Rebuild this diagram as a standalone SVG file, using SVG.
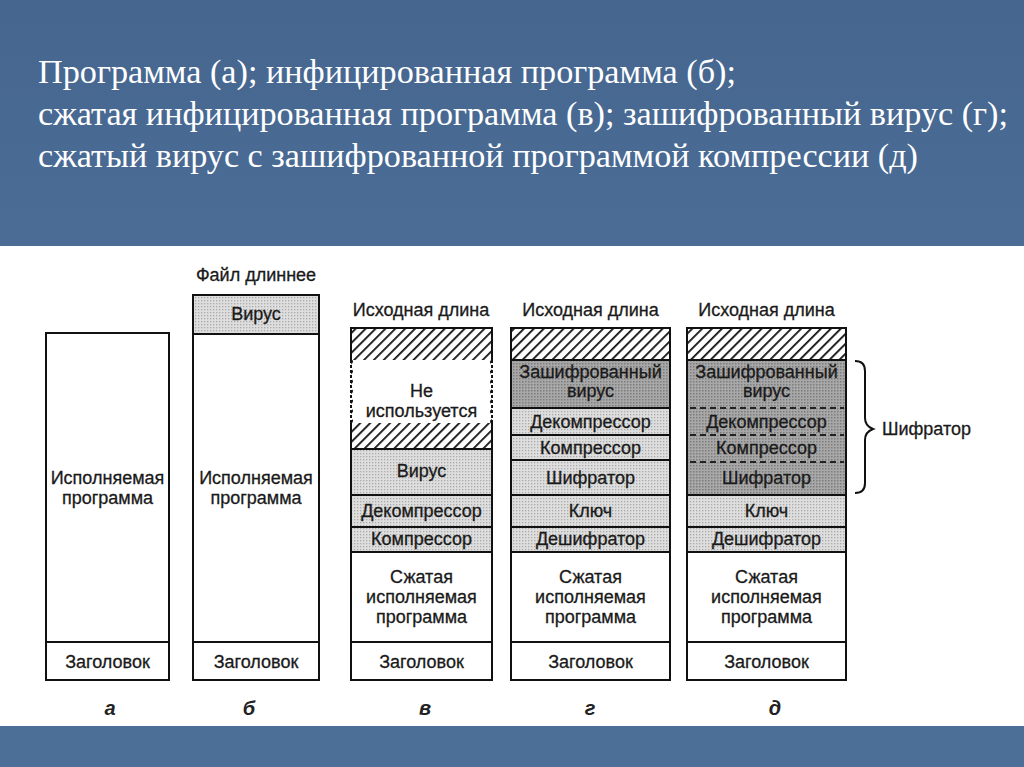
<svg xmlns="http://www.w3.org/2000/svg" width="1024" height="767" viewBox="0 0 1024 767">
<style>
.t{font-family:"Liberation Sans",Arial,sans-serif;font-size:18px;fill:#1a1a1a;text-anchor:middle;stroke:#1a1a1a;stroke-width:0.3}
.lab{font-family:"Liberation Sans",Arial,sans-serif;font-size:20px;font-style:italic;font-weight:bold;fill:#222;text-anchor:middle}
.title{font-family:"Liberation Serif","Times New Roman",serif;font-size:33px;fill:#ffffff}
.box{fill:none;stroke:#111;stroke-width:2}
.ln{stroke:#111;stroke-width:2;fill:none}
.dash{stroke:#222;stroke-width:2;stroke-dasharray:6 4;fill:none}
.light{fill:url(#lightDots)}
.dark{fill:url(#darkDots)}
.hatch{fill:url(#hatch)}
</style>
<defs>
<linearGradient id="bg" x1="0" y1="0" x2="0" y2="1">
<stop offset="0" stop-color="#46668f"/>
<stop offset="1" stop-color="#5279a3"/>
</linearGradient>
<pattern id="lightDots" width="3" height="3" patternUnits="userSpaceOnUse">
<rect width="3" height="3" fill="#dedede"/>
<rect width="1.3" height="1.3" fill="#ababab"/>
</pattern>
<pattern id="darkDots" width="3" height="3" patternUnits="userSpaceOnUse">
<rect width="3" height="3" fill="#a8a8a8"/>
<rect width="1.5" height="1.5" fill="#7c7c7c"/>
</pattern>
<pattern id="hatch" width="7" height="7" patternUnits="userSpaceOnUse" patternTransform="rotate(45)">
<rect width="7" height="7" fill="#fff"/>
<rect x="0" y="0" width="1.8" height="7" fill="#111"/>
</pattern>
</defs>

<!-- background -->
<rect x="0" y="0" width="1024" height="767" fill="url(#bg)"/>
<rect x="0" y="726" width="1024" height="41" fill="#4b6f97"/>
<rect x="0" y="246" width="1024" height="480" fill="#ffffff"/>

<g id="title">
<text class="title" x="38" y="83" textLength="698" lengthAdjust="spacingAndGlyphs">Программа (а); инфицированная программа (б);</text>
<text class="title" x="38" y="125" textLength="970" lengthAdjust="spacingAndGlyphs">сжатая инфицированная программа (в); зашифрованный вирус (г);</text>
<text class="title" x="38" y="167" textLength="880" lengthAdjust="spacingAndGlyphs">сжатый вирус с зашифрованной программой компрессии (д)</text>
</g>

<!-- column a -->
<g id="col-a">
<rect class="box" x="46" y="333" width="123" height="347"/>
<line class="ln" x1="46" y1="642" x2="169" y2="642"/>
<text class="t" x="107.5" y="484">Исполняемая</text>
<text class="t" x="107.5" y="504">программа</text>
<text class="t" x="107.5" y="668">Заголовок</text>
<text class="lab" x="110" y="715">а</text>
</g>

<!-- column b -->
<g id="col-b">
<text class="t" x="256" y="281">Файл длиннее</text>
<rect class="light" x="193" y="295" width="126" height="39"/>
<rect class="box" x="193" y="295" width="126" height="385"/>
<line class="ln" x1="193" y1="334" x2="319" y2="334"/>
<line class="ln" x1="193" y1="642" x2="319" y2="642"/>
<text class="t" x="256" y="320">Вирус</text>
<text class="t" x="256" y="484">Исполняемая</text>
<text class="t" x="256" y="504">программа</text>
<text class="t" x="256" y="668">Заголовок</text>
<text class="lab" x="249" y="715">б</text>
</g>

<!-- column v -->
<g id="col-v">
<text class="t" x="421" y="316">Исходная длина</text>
<rect class="hatch" x="351" y="328" width="141" height="121"/>
<rect x="353" y="360" width="137" height="63" fill="#fff"/>
<rect class="light" x="351" y="449" width="141" height="103"/>
<line class="ln" x1="351" y1="328" x2="492" y2="328"/>
<line class="ln" x1="351" y1="327" x2="351" y2="360"/>
<line class="ln" x1="492" y1="327" x2="492" y2="360"/>
<line class="ln" x1="351" y1="360" x2="351" y2="423" stroke-dasharray="3 2"/>
<line class="ln" x1="492" y1="360" x2="492" y2="423" stroke-dasharray="3 2"/>
<line class="ln" x1="351" y1="423" x2="351" y2="681"/>
<line class="ln" x1="492" y1="423" x2="492" y2="681"/>
<line class="ln" x1="351" y1="449" x2="492" y2="449"/>
<line class="ln" x1="351" y1="495" x2="492" y2="495"/>
<line class="ln" x1="351" y1="527" x2="492" y2="527"/>
<line class="ln" x1="351" y1="552" x2="492" y2="552"/>
<line class="ln" x1="351" y1="642" x2="492" y2="642"/>
<line class="ln" x1="351" y1="680" x2="492" y2="680"/>
<text class="t" x="421.5" y="397">Не</text>
<text class="t" x="421.5" y="417">используется</text>
<text class="t" x="421.5" y="477">Вирус</text>
<text class="t" x="421.5" y="517">Декомпрессор</text>
<text class="t" x="421.5" y="545">Компрессор</text>
<text class="t" x="421.5" y="583">Сжатая</text>
<text class="t" x="421.5" y="603">исполняемая</text>
<text class="t" x="421.5" y="623">программа</text>
<text class="t" x="421.5" y="668">Заголовок</text>
<text class="lab" x="425" y="715">в</text>
</g>

<!-- column g -->
<g id="col-g">
<text class="t" x="590.5" y="316">Исходная длина</text>
<rect class="hatch" x="511" y="328" width="159" height="32"/>
<rect class="dark" x="511" y="360" width="159" height="48"/>
<rect class="light" x="511" y="408" width="159" height="144"/>
<rect class="box" x="511" y="328" width="159" height="352"/>
<line class="ln" x1="511" y1="360" x2="670" y2="360"/>
<line class="ln" x1="511" y1="408" x2="670" y2="408"/>
<line class="ln" x1="511" y1="435" x2="670" y2="435"/>
<line class="ln" x1="511" y1="460" x2="670" y2="460"/>
<line class="ln" x1="511" y1="495" x2="670" y2="495"/>
<line class="ln" x1="511" y1="527" x2="670" y2="527"/>
<line class="ln" x1="511" y1="552" x2="670" y2="552"/>
<line class="ln" x1="511" y1="642" x2="670" y2="642"/>
<text class="t" x="590.5" y="378">Зашифрованный</text>
<text class="t" x="590.5" y="397">вирус</text>
<text class="t" x="590.5" y="428">Декомпрессор</text>
<text class="t" x="590.5" y="454">Компрессор</text>
<text class="t" x="590.5" y="484">Шифратор</text>
<text class="t" x="590.5" y="517">Ключ</text>
<text class="t" x="590.5" y="545">Дешифратор</text>
<text class="t" x="590.5" y="583">Сжатая</text>
<text class="t" x="590.5" y="603">исполняемая</text>
<text class="t" x="590.5" y="623">программа</text>
<text class="t" x="590.5" y="668">Заголовок</text>
<text class="lab" x="590" y="715">г</text>
</g>

<!-- column d -->
<g id="col-d">
<text class="t" x="766.5" y="316">Исходная длина</text>
<rect class="hatch" x="687" y="328" width="159" height="32"/>
<rect class="dark" x="687" y="360" width="159" height="135"/>
<rect class="light" x="687" y="495" width="159" height="57"/>
<rect class="box" x="687" y="328" width="159" height="352"/>
<line class="ln" x1="687" y1="360" x2="846" y2="360"/>
<line class="dash" x1="690" y1="408" x2="844" y2="408"/>
<line class="dash" x1="690" y1="435" x2="844" y2="435"/>
<line class="dash" x1="690" y1="462" x2="844" y2="462"/>
<line class="ln" x1="687" y1="495" x2="846" y2="495"/>
<line class="ln" x1="687" y1="527" x2="846" y2="527"/>
<line class="ln" x1="687" y1="552" x2="846" y2="552"/>
<line class="ln" x1="687" y1="642" x2="846" y2="642"/>
<text class="t" x="766.5" y="378">Зашифрованный</text>
<text class="t" x="766.5" y="397">вирус</text>
<text class="t" x="766.5" y="428">Декомпрессор</text>
<text class="t" x="766.5" y="454">Компрессор</text>
<text class="t" x="766.5" y="484">Шифратор</text>
<text class="t" x="766.5" y="517">Ключ</text>
<text class="t" x="766.5" y="545">Дешифратор</text>
<text class="t" x="766.5" y="583">Сжатая</text>
<text class="t" x="766.5" y="603">исполняемая</text>
<text class="t" x="766.5" y="623">программа</text>
<text class="t" x="766.5" y="668">Заголовок</text>
<text class="lab" x="775" y="715">д</text>
</g>

<g id="connectors">
<path class="ln" d="M855 361 Q865 361 865 371 L865 418 Q865 426 873 429 Q865 432 865 440 L865 483 Q865 493 855 493"/>
</g>
<g id="brace-label">
<text class="t" x="882" y="435" style="text-anchor:start">Шифратор</text>
</g>
</svg>
